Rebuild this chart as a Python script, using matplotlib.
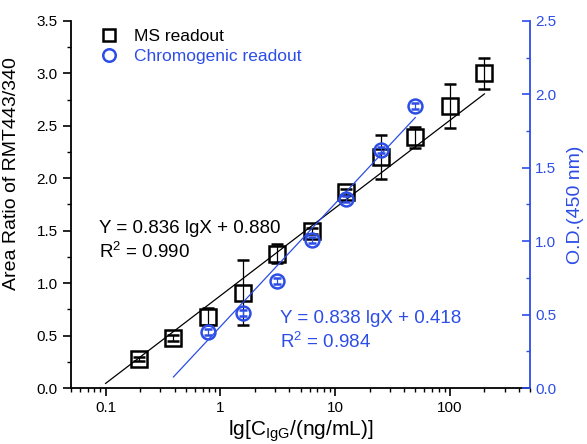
import numpy as np
import matplotlib
matplotlib.use("Agg")
import matplotlib.pyplot as plt
from matplotlib.lines import Line2D
from matplotlib.ticker import MultipleLocator, LogLocator, NullFormatter

plt.rcParams['font.family'] = ['Liberation Sans', 'DejaVu Sans']
plt.rcParams['mathtext.fontset'] = 'custom'
plt.rcParams['mathtext.rm'] = 'Liberation Sans'
plt.rcParams['mathtext.it'] = 'Liberation Sans'

blue = '#2c4de6'

# IgG concentration, two-fold dilution series (ng/mL)
conc = [0.1953, 0.3906, 0.7813, 1.5625, 3.125, 6.25, 12.5, 25, 50, 100, 200]
# MS readout: area ratio RMT443/340
ms_y = [0.28, 0.48, 0.68, 0.91, 1.28, 1.50, 1.87, 2.20, 2.39, 2.69, 3.00]
ms_err = [0.02, 0.03, 0.08, 0.31, 0.09, 0.03, 0.03, 0.21, 0.10, 0.21, 0.15]

# chromogenic readout: O.D.(450 nm)
chr_conc = [0.7813, 1.5625, 3.125, 6.25, 12.5, 25, 50]
chr_y = [0.38, 0.51, 0.73, 1.01, 1.29, 1.62, 1.92]
chr_err = [0.02, 0.02, 0.02, 0.02, 0.02, 0.02, 0.02]

# linear fits  Y = k lgX + b
ms_fit = (0.836, 0.880)
ms_fit_range = (0.1, 200)
chr_fit = (0.838, 0.418)
chr_fit_range = (0.39, 50)

fig = plt.figure(figsize=(5.87, 4.44), dpi=100)
ax = fig.add_axes([0.121, 0.126, 0.782, 0.827])
ax2 = ax.twinx()

# MS data
xf = np.logspace(np.log10(ms_fit_range[0]), np.log10(ms_fit_range[1]), 50)
ax.plot(xf, ms_fit[0] * np.log10(xf) + ms_fit[1], color='black', lw=0.9)
ax.errorbar(conc, ms_y, yerr=ms_err, fmt='s', ms=11, mfc='none', mec='black',
            mew=1.8, ecolor='black', elinewidth=0.9, capsize=4, capthick=0.9)

# chromogenic data
xf2 = np.logspace(np.log10(chr_fit_range[0]), np.log10(chr_fit_range[1]), 50)
ax2.plot(xf2, chr_fit[0] * np.log10(xf2) + chr_fit[1], color=blue, lw=0.9)
ax2.errorbar(chr_conc, chr_y, yerr=chr_err, fmt='o', ms=10, mfc='none', mec=blue,
             mew=1.8, ecolor=blue, elinewidth=0.9, capsize=3, capthick=0.9)

ax.set_xscale('log')
ax.set_xlim(0.05, 500)
ax.set_ylim(0, 3.5)
ax2.set_ylim(0, 2.5)
ax.set_xticks([0.1, 1, 10, 100])
ax.set_xticklabels(['0.1', '1', '10', '100'])
ax.xaxis.set_minor_locator(LogLocator(base=10, subs=np.arange(2, 10)))
ax.xaxis.set_minor_formatter(NullFormatter())
ax.yaxis.set_major_locator(MultipleLocator(0.5))
ax.yaxis.set_minor_locator(MultipleLocator(0.25))
ax2.yaxis.set_major_locator(MultipleLocator(0.5))
ax2.yaxis.set_minor_locator(MultipleLocator(0.25))
ax.yaxis.set_major_formatter('{x:.1f}')
ax2.yaxis.set_major_formatter('{x:.1f}')

ax.tick_params(which='major', direction='out', length=6, width=1.2, labelsize=11)
ax.tick_params(which='minor', direction='out', length=3, width=1.0)
ax2.tick_params(which='major', direction='in', length=6, width=1.2, labelsize=11,
                colors=blue)
ax2.tick_params(which='minor', direction='in', length=3, width=1.0, colors=blue)

for a in (ax, ax2):
    a.spines['top'].set_visible(False)
ax.spines['left'].set_linewidth(1.3)
ax.spines['bottom'].set_linewidth(1.3)
ax.spines['right'].set_visible(False)
ax2.spines['left'].set_visible(False)
ax2.spines['bottom'].set_visible(False)
ax2.spines['right'].set_color(blue)
ax2.spines['right'].set_linewidth(1.3)

ax.set_xlabel(r'lg[C$_{\mathrm{IgG}}$/(ng/mL)]', fontsize=15, labelpad=2)
ax.set_ylabel('Area Ratio of RMT443/340', fontsize=14)
ax.yaxis.set_label_coords(-0.111, 0.583)
ax2.set_ylabel('O.D.(450 nm)', fontsize=14, color=blue, labelpad=8)

ax.text(0.0885, 1.48, 'Y = 0.836 lgX + 0.880', fontsize=13.5)
ax.text(0.0885, 1.24, r'R$^2$ = 0.990', fontsize=13.5)
ax2.text(3.3, 0.443, 'Y = 0.838 lgX + 0.418', fontsize=13.5, color=blue)
ax2.text(3.3, 0.27, r'R$^2$ = 0.984', fontsize=13.5, color=blue)

handles = [
    Line2D([], [], ls='none', marker='s', ms=9, mfc='none', mec='black', mew=1.8),
    Line2D([], [], ls='none', marker='o', ms=9, mfc='none', mec=blue, mew=1.8),
]
leg = ax2.legend(handles, ['MS readout', 'Chromogenic readout'], loc='upper left',
                 bbox_to_anchor=(0.03, 1.02), frameon=False, fontsize=12.5,
                 handletextpad=0.94, labelspacing=0.25, handlelength=1.0)
leg.get_texts()[1].set_color(blue)

fig.savefig('out.png', dpi=100)
